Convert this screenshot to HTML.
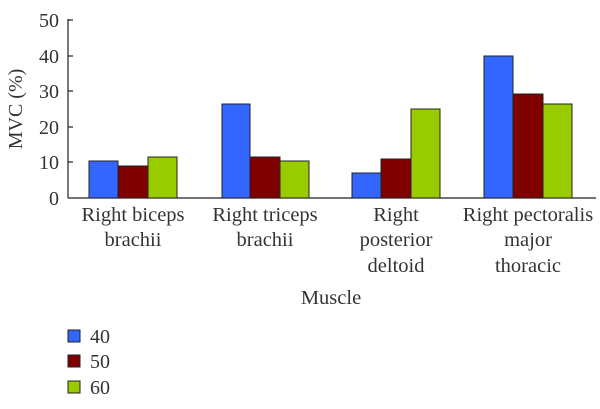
<!DOCTYPE html><html><head><style>body{margin:0;background:#fff}</style></head><body>
<svg width="600" height="404" xmlns="http://www.w3.org/2000/svg" font-family="Liberation Serif, serif" fill="#333">
<g stroke="#222" stroke-width="1.2">
<line x1="68" y1="19" x2="68" y2="198"/><line x1="68" y1="198" x2="596" y2="198"/>
<line x1="68" y1="20" x2="73" y2="20"/><line x1="68" y1="56" x2="73" y2="56"/><line x1="68" y1="91" x2="73" y2="91"/><line x1="68" y1="127" x2="73" y2="127"/><line x1="68" y1="162" x2="73" y2="162"/>
</g>
<g font-size="20" text-anchor="end"><text x="59" y="27">50</text><text x="59" y="63">40</text><text x="59" y="98">30</text><text x="59" y="134">20</text><text x="59" y="169">10</text><text x="59" y="205">0</text></g>
<text transform="translate(22,109) rotate(-90)" font-size="20" text-anchor="middle">MVC (%)</text>
<g stroke="#222" stroke-width="1">
<rect x="89" y="161" width="29" height="37" fill="#3366ff"/><rect x="118" y="166" width="30" height="32" fill="#800000"/><rect x="148" y="157" width="29" height="41" fill="#99cc00"/>
<rect x="222" y="104" width="28" height="94" fill="#3366ff"/><rect x="250" y="157" width="30" height="41" fill="#800000"/><rect x="280" y="161" width="29" height="37" fill="#99cc00"/>
<rect x="352" y="173" width="29" height="25" fill="#3366ff"/><rect x="381" y="159" width="30" height="39" fill="#800000"/><rect x="411" y="109" width="29" height="89" fill="#99cc00"/>
<rect x="484" y="56" width="29" height="142" fill="#3366ff"/><rect x="513" y="94" width="30" height="104" fill="#800000"/><rect x="543" y="104" width="29" height="94" fill="#99cc00"/>
</g>
<g font-size="20.5" text-anchor="middle">
<text x="133" y="221">Right biceps</text><text x="133" y="246">brachii</text>
<text x="265" y="221">Right triceps</text><text x="265" y="246">brachii</text>
<text x="396" y="221">Right</text><text x="396" y="246">posterior</text><text x="396" y="272">deltoid</text>
<text x="528" y="221">Right pectoralis</text><text x="528" y="246">major</text><text x="528" y="272">thoracic</text>
<text x="331" y="304">Muscle</text>
</g>
<g stroke="#222" stroke-width="1">
<rect x="68" y="330" width="12" height="12" fill="#3366ff"/><rect x="68" y="355" width="12" height="12" fill="#800000"/><rect x="68" y="381" width="12" height="12" fill="#99cc00"/>
</g>
<g font-size="20"><text x="90" y="343">40</text><text x="90" y="368">50</text><text x="90" y="394">60</text></g>
</svg></body></html>
